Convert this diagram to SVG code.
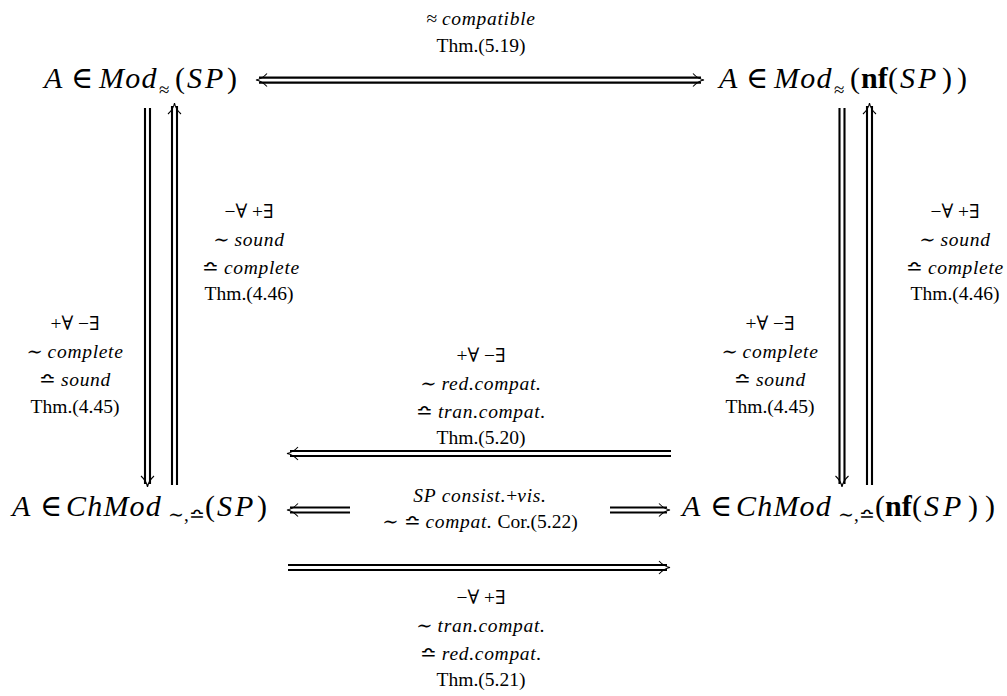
<svg xmlns="http://www.w3.org/2000/svg" width="1007" height="696" viewBox="0 0 1007 696">
<style>
.big{font-family:"Liberation Serif","Times New Roman","DejaVu Serif",serif;font-size:30px;fill:#000}
.lab{font-family:"Liberation Serif","Times New Roman","DejaVu Serif",serif;font-size:19.5px;fill:#000;text-anchor:middle}
.i{font-style:italic}
.li{font-style:italic;letter-spacing:0.7px}
.mi{font-style:italic;letter-spacing:1.2px}
.b{font-weight:bold}
.sub{font-size:19px}
.dl{stroke:#000;stroke-width:2.1;fill:none}
.hd{stroke:#000;stroke-width:1.1;fill:none}
</style>
<rect width="1007" height="696" fill="#fff"/>
<g id="connectors">
  <g id="e-top">
    <path class="dl" d="M259,77.6 H701 M259,82.6 H701"/>
    <path class="hd" d="M267,73.5 Q262,79 256,80 Q262,81 267,86.5"/>
    <path class="hd" d="M693,73.5 Q698,79 704,80 Q698,81 693,86.5"/>
  </g>
  <g id="e-left-down">
    <path class="dl" d="M145,108 V484 M150,108 V484"/>
    <path class="hd" d="M141,476 Q146.5,481 147.5,487 Q148.5,481 154,476"/>
  </g>
  <g id="e-left-up">
    <path class="dl" d="M172,485 V106 M177,485 V106"/>
    <path class="hd" d="M168,114 Q173.5,109 174.5,103 Q175.5,109 181,114"/>
  </g>
  <g id="e-right-down">
    <path class="dl" d="M839.5,108 V484 M844.5,108 V484"/>
    <path class="hd" d="M835.5,476 Q841,481 842,487 Q843,481 848.5,476"/>
  </g>
  <g id="e-right-up">
    <path class="dl" d="M867,485 V106 M872,485 V106"/>
    <path class="hd" d="M863,114 Q868.5,109 869.5,103 Q870.5,109 876,114"/>
  </g>
  <g id="e-mid-upper">
    <path class="dl" d="M290,451 H671 M290,456 H671"/>
    <path class="hd" d="M298,447 Q293,452.5 287,453.5 Q293,454.5 298,460"/>
  </g>
  <g id="e-mid-left">
    <path class="dl" d="M290,507.5 H350 M290,512.5 H350"/>
    <path class="hd" d="M298,503.5 Q293,509 287,510 Q293,511 298,516.5"/>
  </g>
  <g id="e-mid-right">
    <path class="dl" d="M610,507.5 H667 M610,512.5 H667"/>
    <path class="hd" d="M659,503.5 Q664,509 670,510 Q664,511 659,516.5"/>
  </g>
  <g id="e-bottom">
    <path class="dl" d="M288,565 H667 M288,570 H667"/>
    <path class="hd" d="M659,561 Q664,566.5 670,567.5 Q664,568.5 659,574"/>
  </g>
</g>

<g id="n-mod-sp">
  <text class="big" y="88"><tspan x="44" class="i">A</tspan><tspan x="71">∈</tspan><tspan x="99" class="mi">Mod</tspan><tspan x="159" y="96" class="sub">≈</tspan><tspan x="175" y="88">(</tspan><tspan x="187" class="i">S</tspan><tspan x="205" class="i">P</tspan><tspan x="227">)</tspan></text>
</g>
<g id="n-mod-nf">
  <text class="big" y="88"><tspan x="719" class="i">A</tspan><tspan x="746">∈</tspan><tspan x="774" class="mi">Mod</tspan><tspan x="834" y="96" class="sub">≈</tspan><tspan x="850" y="88">(</tspan><tspan x="861" class="b">nf</tspan><tspan x="888">(</tspan><tspan x="900" class="i">S</tspan><tspan x="918" class="i">P</tspan><tspan x="942">)</tspan><tspan x="957">)</tspan></text>
</g>
<g id="n-chmod-sp">
  <text class="big" y="516"><tspan x="12" class="i">A</tspan><tspan x="40">∈</tspan><tspan x="66" class="mi">ChMod</tspan><tspan x="168" y="521" class="sub">∼,≏</tspan><tspan x="205" y="516">(</tspan><tspan x="217" class="i">S</tspan><tspan x="235" class="i">P</tspan><tspan x="257">)</tspan></text>
</g>
<g id="n-chmod-nf">
  <text class="big" y="516"><tspan x="682" class="i">A</tspan><tspan x="710">∈</tspan><tspan x="736" class="mi">ChMod</tspan><tspan x="838" y="521" class="sub">∼,≏</tspan><tspan x="875" y="516">(</tspan><tspan x="885" class="b">nf</tspan><tspan x="912">(</tspan><tspan x="924" class="i">S</tspan><tspan x="943" class="i">P</tspan><tspan x="968">)</tspan><tspan x="985">)</tspan></text>
</g>

<g id="labels">
  <text class="lab" x="481" y="25">≈ <tspan class="li">compatible</tspan></text>
  <text class="lab" x="481" y="52">Thm.(5.19)</text>

  <text class="lab" x="249" y="218">−∀ +∃</text>
  <text class="lab" x="249" y="246">∼ <tspan class="li">sound</tspan></text>
  <text class="lab" x="251" y="274">≏ <tspan class="li">complete</tspan></text>
  <text class="lab" x="249" y="300">Thm.(4.46)</text>

  <text class="lab" x="75" y="330">+∀ −∃</text>
  <text class="lab" x="75" y="358">∼ <tspan class="li">complete</tspan></text>
  <text class="lab" x="75" y="386">≏ <tspan class="li">sound</tspan></text>
  <text class="lab" x="75" y="413">Thm.(4.45)</text>

  <text class="lab" x="955" y="218">−∀ +∃</text>
  <text class="lab" x="955" y="246">∼ <tspan class="li">sound</tspan></text>
  <text class="lab" x="955" y="274">≏ <tspan class="li">complete</tspan></text>
  <text class="lab" x="955" y="300">Thm.(4.46)</text>

  <text class="lab" x="770" y="330">+∀ −∃</text>
  <text class="lab" x="770" y="358">∼ <tspan class="li">complete</tspan></text>
  <text class="lab" x="770" y="386">≏ <tspan class="li">sound</tspan></text>
  <text class="lab" x="770" y="413">Thm.(4.45)</text>

  <text class="lab" x="481" y="362">+∀ −∃</text>
  <text class="lab" x="481" y="390">∼ <tspan class="li">red.compat.</tspan></text>
  <text class="lab" x="481" y="418">≏ <tspan class="li">tran.compat.</tspan></text>
  <text class="lab" x="481" y="444">Thm.(5.20)</text>

  <text class="lab" x="480" y="502"><tspan class="li">SP consist.</tspan>+<tspan class="li">vis.</tspan></text>
  <text class="lab" x="480" y="528">∼ ≏ <tspan class="li">compat.</tspan> Cor.(5.22)</text>

  <text class="lab" x="481" y="604">−∀ +∃</text>
  <text class="lab" x="481" y="632">∼ <tspan class="li">tran.compat.</tspan></text>
  <text class="lab" x="481" y="660">≏ <tspan class="li">red.compat.</tspan></text>
  <text class="lab" x="481" y="686">Thm.(5.21)</text>
</g>
</svg>
